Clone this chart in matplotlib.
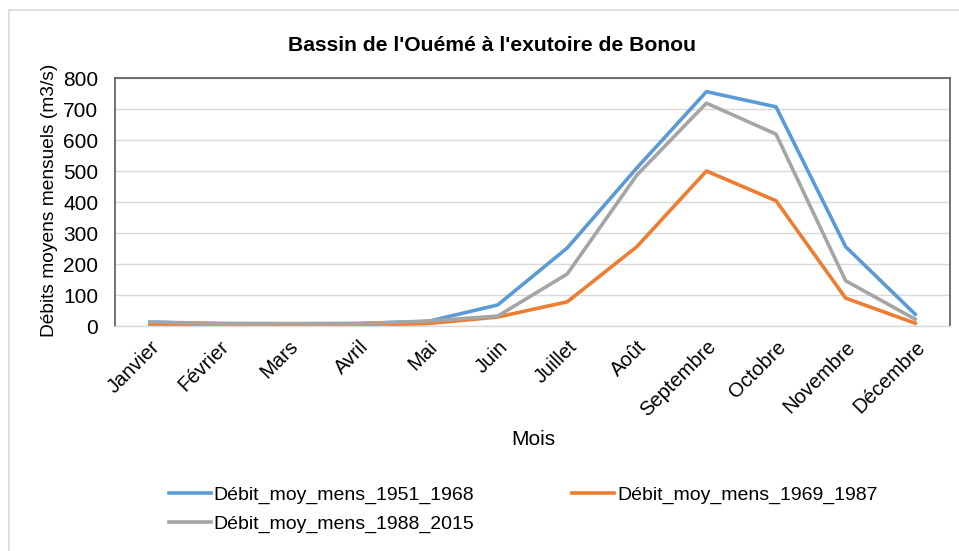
import matplotlib
matplotlib.use("Agg")
import matplotlib.pyplot as plt
from matplotlib.patches import Rectangle

# monthly mean discharge (m3/s), Ouémé at Bonou
mois = ["Janvier", "Février", "Mars", "Avril", "Mai", "Juin", "Juillet",
        "Août", "Septembre", "Octobre", "Novembre", "Décembre"]
debit_1951_1968 = [12, 8, 7, 8, 15, 68, 252, 510, 756, 707, 256, 38]
debit_1969_1987 = [5, 2, 2, 2, 8, 29, 78, 256, 500, 404, 90, 9]
debit_1988_2015 = [13, 8, 8, 8, 16, 32, 168, 487, 719, 619, 146, 22]

labels = ["Débit_moy_mens_1951_1968", "Débit_moy_mens_1969_1987",
          "Débit_moy_mens_1988_2015"]
colors = ["#5B9BD5", "#ED7D31", "#A5A5A5"]

plt.rcParams['font.family'] = ['Liberation Sans', 'DejaVu Sans']

fig = plt.figure(figsize=(9.59, 5.51), dpi=100)
ax = fig.add_axes([0.1199, 0.4083, 0.8707, 0.4501])

# outer chart area border
fig.patches.append(Rectangle((9 / 959, -0.05), 1.0, 1 - 10 / 551 + 0.05,
                             transform=fig.transFigure, fill=False,
                             edgecolor="#d9d9d9", linewidth=1.2))

x = list(range(len(mois)))
lines = []
for serie, col, lab in zip([debit_1951_1968, debit_1969_1987, debit_1988_2015],
                           colors, labels):
    l, = ax.plot(x, serie, color=col, linewidth=2.6, label=lab)
    lines.append(l)

ax.set_xlim(-0.5, len(mois) - 0.5)
ax.set_ylim(0, 800)
ax.set_yticks(range(0, 801, 100))
ax.set_xticks(x)
ax.set_xticklabels(mois, rotation=45, ha="right", rotation_mode="anchor",
                   fontsize=14.5)
ax.tick_params(axis="y", labelsize=15, length=0, pad=12)
ax.tick_params(axis="x", length=0, pad=8)
ax.grid(axis="y", color="#d9d9d9", linewidth=1)
ax.set_axisbelow(True)

for s in ["left", "top", "right"]:
    ax.spines[s].set_color("#595959")
    ax.spines[s].set_linewidth(1.2)
ax.spines["bottom"].set_color("#d9d9d9")
ax.spines["bottom"].set_linewidth(1)

fig.text(0.513, 0.918, "Bassin de l'Ouémé à l'exutoire de Bonou",
         ha="center", va="center", fontsize=15.2, fontweight="bold")
fig.text(0.052, 0.636, "Débits moyens mensuels (m3/s)", rotation=90,
         ha="center", va="center", fontsize=13.8)
fig.text(0.556, 0.202, "Mois", ha="center", va="center", fontsize=15)

# row-wise legend: reorder for column filling
leg = fig.legend([lines[0], lines[2], lines[1]],
                 [labels[0], labels[2], labels[1]],
                 ncol=2, loc="upper left", bbox_to_anchor=(0.176, 0.118),
                 frameon=False, handlelength=2.15, handletextpad=0.15,
                 columnspacing=5.05, labelspacing=0.6, borderpad=0,
                 borderaxespad=0, prop={'size': 14})

fig.savefig("out.png", dpi=100)
